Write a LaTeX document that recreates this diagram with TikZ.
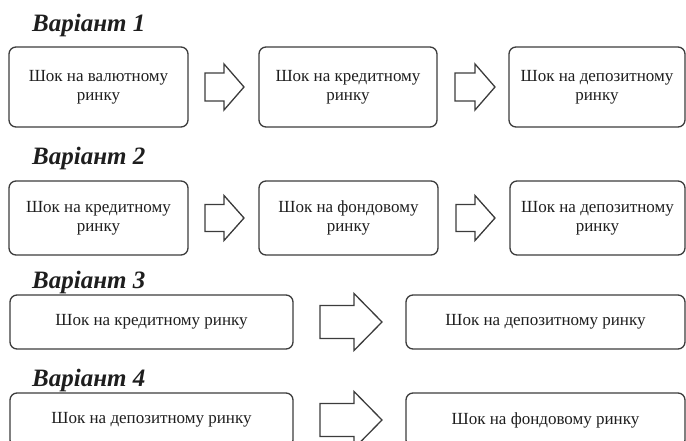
\documentclass[tikz,border=0pt]{standalone}
\usepackage{fontspec}
\setmainfont{Liberation Serif}
\usetikzlibrary{calc}
\definecolor{edge}{HTML}{3C3C3C}
\definecolor{ink}{HTML}{1E1E1E}
\tikzset{
  box/.style={draw=edge, line width=1.3pt, rounded corners=7pt, align=center, inner sep=0pt,
    font=\fontsize{17}{19}\selectfont, text=ink},
  title/.style={anchor=base west, inner sep=0pt, font=\fontsize{25}{28}\selectfont\bfseries\itshape, text=ink},
  blockarr/.style={draw=edge, line width=1.3pt, line join=miter, fill=white}
}
% #1 name of left box, #2 shaft start x, #3 head base x, #4 tip x, #5 centre y, #6 half head, #7 half shaft
\newcommand\blockarrowdraw[7]{%
  \draw[blockarr] (#2,#5-#7) -- (#3,#5-#7) -- (#3,#5-#6) -- (#4,#5) -- (#3,#5+#6) -- (#3,#5+#7) -- (#2,#5+#7) -- cycle;}
\begin{document}
\begin{tikzpicture}[x=1pt,y=-1pt]
\useasboundingbox (0,0) rectangle (686,441);
% titles
\node[title] (t1) at (32,32) {Варіант 1};
\node[title] (t2) at (32,165) {Варіант 2};
\node[title] (t3) at (32,288) {Варіант 3};
\node[title] (t4) at (32,386) {Варіант 4};
% row 1
\node[box, minimum width=179pt, minimum height=80pt] (a1) at (98.5,87) {Шок на валютному\\ринку};
\node[box, minimum width=178pt, minimum height=80pt] (b1) at (348,87) {Шок на кредитному\\ринку};
\node[box, minimum width=176pt, minimum height=80pt] (c1) at (597,87) {Шок на депозитному\\ринку};
% row 2
\node[box, minimum width=179pt, minimum height=74pt] (a2) at (98.5,218) {Шок на кредитному\\ринку};
\node[box, minimum width=179pt, minimum height=74pt] (b2) at (348.5,218) {Шок на фондовому\\ринку};
\node[box, minimum width=175pt, minimum height=74pt] (c2) at (597.5,218) {Шок на депозитному\\ринку};
% row 3
\node[box, minimum width=283pt, minimum height=54pt] (a3) at (151.5,322) {Шок на кредитному ринку};
\node[box, minimum width=279pt, minimum height=54pt] (b3) at (545.5,322) {Шок на депозитному ринку};
% row 4
\node[box, minimum width=283pt, minimum height=54pt] (a4) at (151.5,420) {Шок на депозитному ринку};
\node[box, minimum width=279pt, minimum height=54pt] (b4) at (545.5,420) {Шок на фондовому ринку};
% block arrows
\blockarrowdraw{a1}{205}{224}{244}{87}{23}{14}
\blockarrowdraw{b1}{455}{475}{495}{87}{23}{14}
\blockarrowdraw{a2}{205}{224}{244}{218}{22.5}{13.5}
\blockarrowdraw{b2}{456}{475}{495}{218}{22.5}{13.5}
\blockarrowdraw{a3}{320}{354}{382}{322}{28.5}{16.5}
\blockarrowdraw{a4}{320}{354}{382}{420}{28.5}{16.5}
\end{tikzpicture}
\end{document}
